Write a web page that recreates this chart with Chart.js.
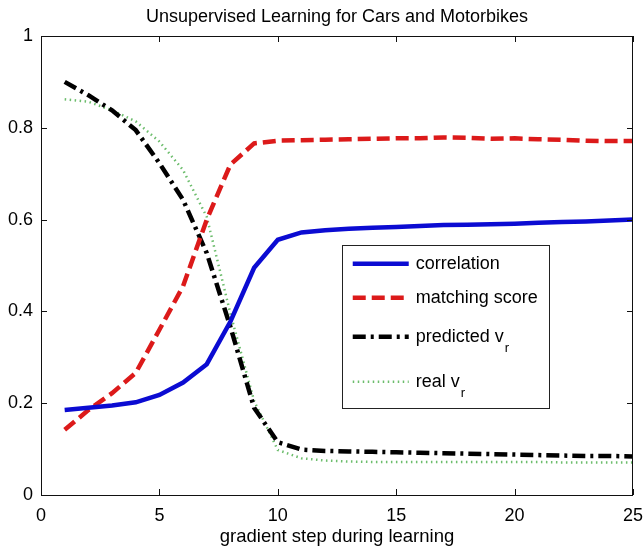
<!DOCTYPE html>
<html>
<head>
<meta charset="utf-8">
<script src="https://cdn.jsdelivr.net/npm/chart.js@4/dist/chart.umd.min.js"></script>
<style>
    html, body { margin: 0; padding: 0; background: #fff; }
    #wrap { width: 644px; height: 549px; }
</style>
</head>
<body>
<div id="wrap"><canvas id="learnChart" width="644" height="549"></canvas></div>
<script>
const steps = [1, 2, 3, 4, 5, 6, 7, 8, 9, 10, 11, 12, 13, 14, 15, 16, 17, 18, 19, 20, 21, 22, 23, 24, 25];
const correlation = [0.185, 0.19, 0.195, 0.202, 0.218, 0.245, 0.285, 0.378, 0.495, 0.556, 0.572, 0.577, 0.58, 0.582, 0.584, 0.586, 0.588, 0.589, 0.59, 0.591, 0.593, 0.595, 0.596, 0.598, 0.6];
const matchingScore = [0.142, 0.185, 0.222, 0.266, 0.36, 0.455, 0.6, 0.72, 0.766, 0.772, 0.773, 0.774, 0.775, 0.776, 0.777, 0.777, 0.779, 0.778, 0.776, 0.777, 0.775, 0.774, 0.772, 0.771, 0.771];
const predictedVr = [0.9, 0.871, 0.838, 0.795, 0.723, 0.643, 0.527, 0.366, 0.19, 0.115, 0.099, 0.096, 0.095, 0.094, 0.093, 0.092, 0.091, 0.09, 0.089, 0.088, 0.087, 0.086, 0.085, 0.085, 0.084];
const realVr = [0.862, 0.857, 0.838, 0.814, 0.77, 0.708, 0.606, 0.395, 0.205, 0.098, 0.08, 0.075, 0.073, 0.072, 0.072, 0.072, 0.072, 0.072, 0.072, 0.072, 0.072, 0.071, 0.071, 0.071, 0.071];
const xTicks = [0, 5, 10, 15, 20, 25];
const yTicks = [0, 0.2, 0.4, 0.6, 0.8, 1];

const FONT = '"Liberation Sans", Arial, sans-serif';

function points(values) {
    return steps.map((s, i) => ({ x: s, y: values[i] }));
}

const series = [
    { label: 'correlation', sub: '', data: correlation, color: '#0b0bd2', width: 4.5, dash: [] },
    { label: 'matching score', sub: '', data: matchingScore, color: '#dc1a1a', width: 4.5, dash: [13, 6] },
    { label: 'predicted v', sub: 'r', data: predictedVr, color: '#000000', width: 4.5, dash: [13, 5, 3, 5] },
    { label: 'real v', sub: 'r', data: realVr, color: '#6dbd6d', width: 2.5, dash: [1.5, 3.5] }
];

// frame, inward ticks, title and the boxed legend
const matlabFrame = {
    id: 'matlabFrame',
    afterDraw(chart) {
        const { ctx, chartArea: a, scales } = chart;
        ctx.save();
        ctx.strokeStyle = '#111';
        ctx.lineWidth = 1;
        ctx.strokeRect(a.left + 0.5, a.top + 0.5, a.right - a.left - 1, a.bottom - a.top);
        ctx.beginPath();
        xTicks.forEach(v => {
            const px = Math.round(scales.x.getPixelForValue(v)) + 0.5;
            ctx.moveTo(px, a.bottom); ctx.lineTo(px, a.bottom - 6);
            ctx.moveTo(px, a.top); ctx.lineTo(px, a.top + 6);
        });
        yTicks.forEach(v => {
            const py = Math.round(scales.y.getPixelForValue(v)) + 0.5;
            ctx.moveTo(a.left, py); ctx.lineTo(a.left + 6, py);
            ctx.moveTo(a.right, py); ctx.lineTo(a.right - 6, py);
        });
        ctx.stroke();

        // title
        ctx.fillStyle = '#000';
        ctx.font = '18px ' + FONT;
        ctx.textAlign = 'center';
        ctx.textBaseline = 'middle';
        ctx.fillText('Unsupervised Learning for Cars and Motorbikes', (a.left + a.right) / 2, 17);

        // legend box
        const bx = scales.x.getPixelForValue(12.7);
        const by = scales.y.getPixelForValue(0.545);
        const bw = scales.x.getPixelForValue(21.45) - bx;
        const bh = scales.y.getPixelForValue(0.19) - by;
        ctx.fillStyle = '#fff';
        ctx.fillRect(bx, by, bw, bh);
        ctx.strokeStyle = '#222';
        ctx.strokeRect(Math.round(bx) + 0.5, Math.round(by) + 0.5, Math.round(bw), Math.round(bh));
        const rows = [19, 53, 92, 137];
        series.forEach((s, i) => {
            const y = by + rows[i];
            ctx.beginPath();
            ctx.strokeStyle = s.color;
            ctx.lineWidth = s.width;
            ctx.setLineDash(s.dash);
            ctx.moveTo(bx + 11, y);
            ctx.lineTo(bx + 67, y);
            ctx.stroke();
            ctx.setLineDash([]);
            ctx.fillStyle = '#000';
            ctx.font = '18px ' + FONT;
            ctx.textAlign = 'left';
            ctx.textBaseline = 'middle';
            ctx.fillText(s.label, bx + 74, y);
            if (s.sub) {
                const w = ctx.measureText(s.label).width;
                ctx.font = '13px ' + FONT;
                ctx.fillText(s.sub, bx + 75 + w, y + 12);
            }
        });
        ctx.restore();
    }
};

const ctx = document.getElementById('learnChart').getContext('2d');
new Chart(ctx, {
    type: 'line',
    data: {
        datasets: series.map(s => ({
            label: s.label + s.sub,
            data: points(s.data),
            borderColor: s.color,
            borderWidth: s.width,
            borderDash: s.dash,
            pointRadius: 0,
            tension: 0,
            fill: false
        }))
    },
    options: {
        responsive: false,
        animation: false,
        layout: { padding: { top: 36, right: 11, left: 0, bottom: 0 } },
        plugins: {
            legend: { display: false },
            tooltip: { enabled: false }
        },
        scales: {
            x: {
                type: 'linear',
                min: 0,
                max: 25,
                afterBuildTicks: scale => { scale.ticks = xTicks.map(v => ({ value: v })); },
                afterFit: scale => { scale.height = 54; scale.paddingLeft = 0; scale.paddingRight = 0; },
                grid: { display: false, drawTicks: false },
                border: { display: false },
                ticks: { color: '#000', font: { family: FONT, size: 18 }, padding: 10, maxRotation: 0 },
                title: { display: true, text: 'gradient step during learning', color: '#000', font: { family: FONT, size: 18.5 }, padding: { top: 0, bottom: 1 } }
            },
            y: {
                min: 0,
                max: 1,
                afterBuildTicks: scale => { scale.ticks = yTicks.map(v => ({ value: v })); },
                afterFit: scale => { scale.width = 41; },
                grid: { display: false, drawTicks: false },
                border: { display: false },
                ticks: { color: '#000', font: { family: FONT, size: 18 }, padding: 8, callback: v => String(Math.round(v * 10) / 10) }
            }
        }
    },
    plugins: [matlabFrame]
});
</script>
</body>
</html>
